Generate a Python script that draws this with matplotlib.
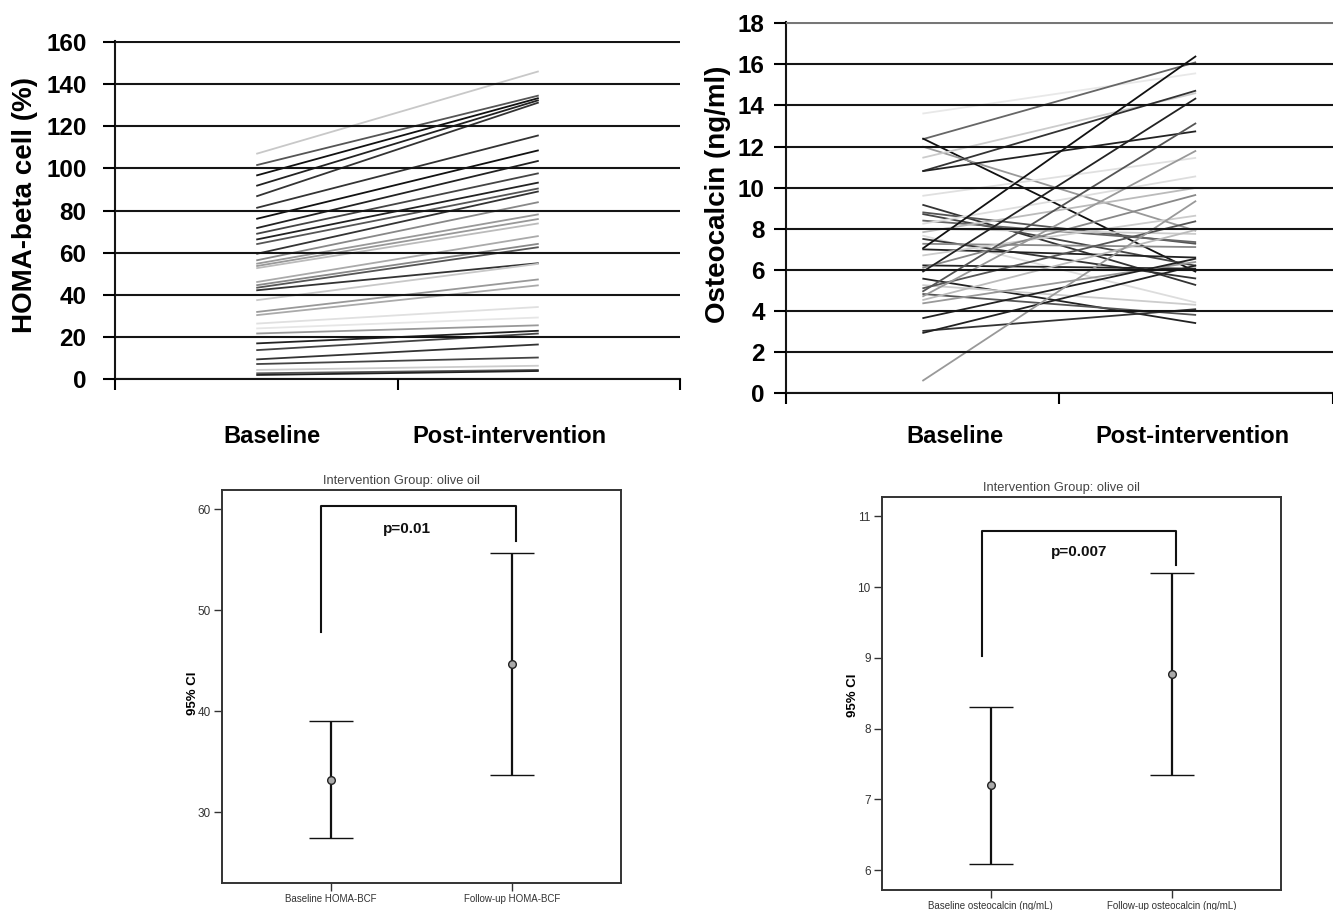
import numpy as np
import matplotlib
matplotlib.use("Agg")
import matplotlib.pyplot as plt

plt.rcParams['font.family'] = ['Liberation Sans', 'DejaVu Sans']

W, H = 1333, 910

# -----------------------------
# Individual changes (top panels)
# -----------------------------
homa_base = [106.9, 101.5, 96.6, 91.7, 86.7, 81.2, 76.0, 71.6, 68.9, 66.2, 64.0,
             59.4, 56.3, 54.7, 53.6, 52.6, 46.0, 44.5, 43.3, 42.1, 37.4, 31.8,
             30.3, 26.3, 24.0, 21.6, 16.9, 13.7, 9.3, 7.1, 4.3, 2.7, 1.9]
homa_post = [146.1, 134.6, 133.4, 132.4, 131.3, 115.7, 108.6, 103.6, 97.7, 93.3, 90.5,
             89.1, 84.0, 78.2, 76.0, 73.9, 67.9, 64.2, 62.6, 55.0, 54.7, 47.3,
             44.5, 34.2, 29.2, 25.5, 22.9, 21.6, 16.4, 10.2, 6.3, 4.3, 3.8]
homa_shade = ['#c8c8c8', '#555555', '#111111', '#222222', '#333333', '#333333', '#111111',
              '#222222', '#444444', '#222222', '#555555', '#333333', '#888888', '#999999',
              '#999999', '#bbbbbb', '#aaaaaa', '#888888', '#555555', '#333333', '#c8c8c8',
              '#999999', '#aaaaaa', '#e0e0e0', '#e6e6e6', '#999999', '#222222', '#444444',
              '#333333', '#444444', '#cccccc', '#555555', '#222222']

osteo_base = [13.6, 12.35, 12.4, 12.0, 11.45, 10.8, 10.8, 9.6, 9.17, 8.8, 8.72, 8.4,
              8.24, 8.0, 7.83, 7.67, 7.51, 7.27, 7.03, 7.0, 6.7, 6.22, 6.1, 5.9, 5.58,
              5.26, 5.1, 4.94, 4.83, 4.7, 4.53, 4.37, 3.65, 3.03, 2.93, 0.6]
osteo_post = [15.56, 16.1, 5.9, 7.9, 14.6, 14.72, 12.74, 11.45, 5.26, 7.27, 6.2, 7.35,
              10.55, 7.75, 9.99, 4.41, 5.58, 7.11, 16.4, 6.6, 8.64, 6.06, 9.65, 14.35,
              3.41, 4.3, 8.37, 13.14, 3.81, 11.8, 7.95, 6.39, 6.55, 4.09, 6.22, 9.36]
osteo_shade = ['#e8e8e8', '#666666', '#111111', '#999999', '#cccccc', '#333333', '#222222',
               '#e0e0e0', '#333333', '#555555', '#444444', '#666666', '#dddddd', '#cccccc',
               '#bbbbbb', '#dddddd', '#333333', '#888888', '#111111', '#222222', '#cccccc',
               '#222222', '#888888', '#222222', '#222222', '#cccccc', '#555555', '#555555',
               '#555555', '#999999', '#bbbbbb', '#999999', '#222222', '#333333', '#222222',
               '#999999']

time_labels = ["Baseline", "Post-intervention"]

# -----------------------------
# Means with 95% CI (bottom panels)
# -----------------------------
homa_ci_labels = ["Baseline HOMA-BCF", "Follow-up HOMA-BCF"]
homa_mean = [33.2, 44.7]
homa_low = [27.5, 33.7]
homa_high = [39.0, 55.7]
homa_bracket = [47.8, 60.3, 56.9]   # left foot, top, right foot
homa_p = "p=0.01"

osteo_ci_labels = ["Baseline osteocalcin (ng/mL)", "Follow-up osteocalcin (ng/mL)"]
osteo_mean = [7.2, 8.77]
osteo_low = [6.09, 7.34]
osteo_high = [8.31, 10.2]
osteo_bracket = [9.03, 10.8, 10.32]
osteo_p = "p=0.007"

group_title = "Intervention Group: olive oil"


def px_axes(fig, left, top, right, bottom):
    return fig.add_axes([left / W, 1 - bottom / H, (right - left) / W, (bottom - top) / H])


def spaghetti(ax, base, post, shades, ymax, ystep, xmax, pad):
    for b, p, s in zip(base, post, shades):
        ax.plot([0.5, 1.5], [b, p], color=s, lw=1.3, solid_capstyle='butt')
    ax.set_xlim(0, xmax)
    ax.set_ylim(0, ymax * 1.003)
    ax.set_yticks(np.arange(0, ymax + 1, ystep))
    ax.set_xticks([0, 1, 2])
    ax.set_xticklabels([])
    ax.yaxis.grid(True, color='#151515', lw=1.5)
    ax.set_axisbelow(False)
    for side in ['top', 'right']:
        ax.spines[side].set_visible(False)
    for side in ['left', 'bottom']:
        ax.spines[side].set_linewidth(1.5)
        ax.spines[side].set_color('#151515')
    ax.tick_params(axis='y', direction='out', length=9, width=1.5, pad=pad,
                   labelsize=17.5)
    ax.tick_params(axis='x', direction='out', length=8, width=1.5)
    for lab in ax.get_yticklabels():
        lab.set_fontweight('bold')


def ci_panel(ax, labels, mean, low, high, yticks, ylim, bracket, ptext, ppos):
    x = np.arange(len(mean))
    m = np.array(mean)
    yerr = [m - np.array(low), np.array(high) - m]
    ax.errorbar(x, m, yerr=yerr, fmt='o', color='#111111', ecolor='#111111',
                elinewidth=1.6, capsize=16, capthick=1.6, mfc='#aaaaaa',
                mec='#222222', ms=5.5, mew=1)
    ax.plot([-0.05, -0.05, 1.02, 1.02], [bracket[0], bracket[1], bracket[1], bracket[2]],
            color='#111111', lw=1.5)
    ax.text(ppos, (bracket[1] + max(high)) / 2, ptext, ha='center', va='center',
            fontsize=11, fontweight='bold', color='#111111')
    ax.set_xlim(-0.6, 1.6)
    ax.set_ylim(*ylim)
    ax.set_xticks(x)
    ax.set_xticklabels(labels, fontsize=7, color='#333333')
    ax.set_yticks(yticks)
    ax.tick_params(axis='y', labelsize=8.5, labelcolor='#333333', length=6, width=1,
                   pad=2, color='#333333')
    ax.tick_params(axis='x', length=6, width=1, pad=2, color='#333333')
    for sp in ax.spines.values():
        sp.set_linewidth(1.4)
        sp.set_color('#333333')
    ax.text(0.451, 1.023, group_title, transform=ax.transAxes, ha='center',
            va='center', fontsize=9.3, color='#444444')


fig = plt.figure(figsize=(W / 100, H / 100), dpi=100)

# top-left
ax1 = px_axes(fig, 115, 41, 680, 379)
spaghetti(ax1, homa_base, homa_post, homa_shade, 160, 20, 2, 11.5)
fig.text(25 / W, 1 - 205 / H, "HOMA-beta cell (%)", rotation=90, ha='center',
         va='center', fontsize=20, fontweight='bold')
fig.text(272 / W, 1 - 436 / H, time_labels[0], ha='center', va='center',
         fontsize=17, fontweight='bold')
fig.text(509 / W, 1 - 436 / H, time_labels[1], ha='center', va='center',
         fontsize=17, fontweight='bold')

# top-right
ax2 = px_axes(fig, 785.5, 22, 1333, 393.3)
spaghetti(ax2, osteo_base, osteo_post, osteo_shade, 18, 2, (1333 - 785.5) / 277.5, 6)
ax2.get_ygridlines()[-1].set_color('#777777')
fig.text(718 / W, 1 - 194 / H, "Osteocalcin (ng/ml)", rotation=90, ha='center',
         va='center', fontsize=20, fontweight='bold')
fig.text(955 / W, 1 - 436 / H, time_labels[0], ha='center', va='center',
         fontsize=17, fontweight='bold')
fig.text(1192 / W, 1 - 436 / H, time_labels[1], ha='center', va='center',
         fontsize=17, fontweight='bold')

# bottom-left
ax3 = px_axes(fig, 221.7, 490, 620.7, 883)
ci_panel(ax3, homa_ci_labels, homa_mean, homa_low, homa_high, [30, 40, 50, 60],
         (23.0, 61.9), homa_bracket, homa_p, 0.42)
fig.text(193 / W, 1 - 693 / H, "95% CI", rotation=90, ha='center', va='center',
         fontsize=9.5, fontweight='bold')

# bottom-right
ax4 = px_axes(fig, 881.7, 497.3, 1281, 890)
ci_panel(ax4, osteo_ci_labels, osteo_mean, osteo_low, osteo_high, [6, 7, 8, 9, 10, 11],
         (5.72, 11.27), osteo_bracket, osteo_p, 0.49)
fig.text(853 / W, 1 - 695 / H, "95% CI", rotation=90, ha='center', va='center',
         fontsize=9.5, fontweight='bold')

fig.savefig("out.png", dpi=100)
